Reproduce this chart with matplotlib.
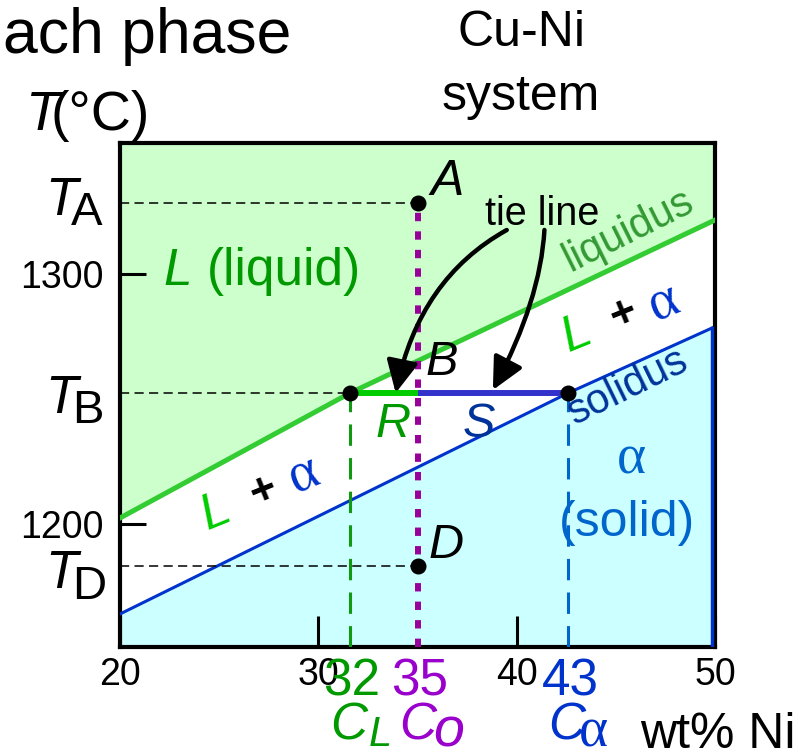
import numpy as np
import matplotlib
matplotlib.use('Agg')
import matplotlib.pyplot as plt
from matplotlib.path import Path
from matplotlib.patches import FancyArrowPatch

plt.rcParams['font.family'] = ['Liberation Sans', 'DejaVu Sans']

# phase boundaries (wt% Ni, deg C)
liq_x = [20, 31.6, 50]
liq_T = [1202.4, 1252.4, 1321.6]
sol_x = [20, 42.6, 49.85]
sol_T = [1164.0, 1252.4, 1278.4]

# alloy / tie line
C0 = 35
CL = 31.6
Ca = 42.6
TA = 1328.4
TB = 1252.4
TD = 1183.2
comp_labels = ['32', '35', '43']

xticks = [20, 30, 40, 50]
yticks = [1200, 1300]
xmin, xmax = 20, 50
ymin, ymax = 1150.8, 1352.4

fig = plt.figure(figsize=(8.11, 7.56), dpi=100)
ax = fig.add_axes([120/811, 109/756, 595/811, 504/756])
ax.set_xlim(xmin, xmax)
ax.set_ylim(ymin, ymax)

# regions
xs = np.linspace(xmin, xmax, 300)
ax.fill_between(xs, np.interp(xs, liq_x, liq_T), ymax, color='#ccffcc', lw=0, zorder=0)
xs2 = np.linspace(xmin, sol_x[-1], 300)
ax.fill_between(xs2, ymin, np.interp(xs2, sol_x, sol_T), color='#ccffff', lw=0, zorder=0)

ax.plot(liq_x, liq_T, color='#33cc33', lw=3.6, zorder=3)
ax.plot(sol_x, sol_T, color='#0033cc', lw=2.2, zorder=3)
ax.plot([sol_x[-1], sol_x[-1]], [ymin, sol_T[-1]], color='#0033cc', lw=2.5, zorder=3)

# guide lines
dash_k = dict(color='black', lw=1.1, ls=(0, (6, 3.5)), zorder=3)
ax.plot([xmin, C0], [TA, TA], **dash_k)
ax.plot([xmin, CL], [TB, TB], **dash_k)
ax.plot([xmin, C0], [TD, TD], **dash_k)
ax.plot([CL, CL], [ymin, TB], color='#119911', lw=2.2, ls=(0, (7, 4)), zorder=3)
ax.plot([Ca, Ca], [ymin, TB], color='#0066cc', lw=2.2, ls=(0, (7, 4)), zorder=3)
ax.plot([C0, C0], [ymin, TA], color='#990099', lw=4.3, ls=(0, (1.4, 1.7)), zorder=4)

# tie line
ax.plot([CL, C0], [TB, TB], color='#00cc00', lw=4.3, solid_capstyle='butt', zorder=4)
ax.plot([C0, Ca], [TB, TB], color='#3333cc', lw=4.3, solid_capstyle='butt', zorder=4)

ax.plot([C0, CL, Ca, C0], [TA, TB, TB, TD], 'o', color='black', ms=10.5, zorder=6)

# arrows from "tie line"
for verts in ([(39.5, 1317.6), (35.1, 1298.2), (33.9, 1252.4)],
              [(41.4, 1317.6), (41.2, 1289.6), (38.8, 1253.6)]):
    arr = FancyArrowPatch(path=Path(verts, [Path.MOVETO, Path.CURVE3, Path.CURVE3]),
                          arrowstyle='-|>,head_length=0.65,head_width=0.32',
                          mutation_scale=30, lw=3.2, color='black',
                          shrinkA=0, shrinkB=0, zorder=5)
    ax.add_patch(arr)

# axes styling
for s in ax.spines.values():
    s.set_linewidth(3)
ax.set_xticks(xticks)
ax.set_xticklabels([str(v) for v in xticks], fontsize=27)
ax.set_yticks(yticks)
ax.set_yticklabels([str(v) for v in yticks], fontsize=27)
ax.tick_params(axis='y', direction='in', length=19, width=2.2, pad=12)
ax.tick_params(axis='x', direction='in', length=22, width=2.2, pad=7)

# temperature labels
for sub, sx, Tb, sb in [('A', 17.5, 1323.6, 1319.6),
                        ('B', 17.6, 1244.4, 1240.4),
                        ('D', 17.6, 1174.4, 1170.0)]:
    ax.text(16.25, Tb, 'T', fontsize=38, style='italic', ha='left', va='baseline', clip_on=False)
    ax.text(sx, sb, sub, fontsize=34, ha='left', va='baseline', clip_on=False)

# region labels
ax.text(22.17, 1295.6, 'L', fontsize=37, style='italic', color='#009900', va='baseline')
ax.text(24.4, 1295.6, '(liquid)', fontsize=37, color='#009900', va='baseline')
ax.text(35.63, 1331.6, 'A', fontsize=36, style='italic', va='baseline')
ax.text(35.38, 1259.6, 'B', fontsize=35, style='italic', va='baseline')
ax.text(35.53, 1186.4, 'D', fontsize=35, style='italic', va='baseline')
ax.text(32.86, 1234.8, 'R', fontsize=35, style='italic', color='#009900', va='baseline')
ax.text(37.29, 1234.8, 'S', fontsize=35, style='italic', color='#003399', va='baseline')
ax.text(38.4, 1319.6, 'tie line', fontsize=28.5, va='baseline')
ax.text(42.7, 1301.0, 'liquidus', fontsize=30, color='#339933', rotation=26.5,
        rotation_mode='anchor', ha='left', va='baseline')
ax.text(42.95, 1239.4, 'solidus', fontsize=30, color='#003399', rotation=26,
        rotation_mode='anchor', ha='left', va='baseline')

for lx, ly, px, py, axx, ayy in [(42.59, 1268.8, 45.36, 1283.6, 47.43, 1288.4),
                                 (24.39, 1197.6, 27.21, 1212.8, 29.28, 1219.6)]:
    ax.text(lx, ly, 'L', fontsize=36, style='italic', color='#00cc00', rotation=22,
            rotation_mode='anchor', ha='left', va='baseline')
    ax.text(px, py, '+', fontsize=32, fontweight='bold', rotation=22,
            ha='center', va='center')
    ax.text(axx, ayy, 'α', fontsize=40, family='Liberation Serif', color='#0033cc',
            rotation=22, ha='center', va='center')

ax.text(45.81, 1225.6, 'α', fontsize=40, family='Liberation Serif', color='#0066cc',
        ha='center', va='center')
ax.text(45.56, 1200.4, '(solid)', fontsize=36, color='#0066cc', ha='center', va='center')

# composition labels under the axis
for x, lab, col in zip([CL, C0, Ca], comp_labels, ['#009900', '#9900cc', '#0033cc']):
    ax.text(x + 0.1, 1131.6, lab, fontsize=37, color=col, ha='center', va='baseline', clip_on=False)
ax.text(30.59, 1113.6, 'C', fontsize=37, style='italic', color='#009900', va='baseline', clip_on=False)
ax.text(32.55, 1111.0, 'L', fontsize=30, style='italic', color='#009900', va='baseline', clip_on=False)
ax.text(34.1, 1113.6, 'C', fontsize=37, style='italic', color='#9900cc', va='baseline', clip_on=False)
ax.text(35.8, 1111.0, 'o', fontsize=40, style='italic', color='#9900cc', va='baseline', clip_on=False)
ax.text(41.58, 1113.6, 'C', fontsize=37, style='italic', color='#0033cc', va='baseline', clip_on=False)
ax.text(43.15, 1111.0, 'α', fontsize=40, family='Liberation Serif', color='#0033cc',
        va='baseline', clip_on=False)
ax.text(46.22, 1110.4, 'wt% Ni', fontsize=36, va='baseline', clip_on=False)

# header texts
fig.text(3/811, 1 - 53/756, 'ach phase', fontsize=45, va='baseline')
fig.text(25/811, 1 - 130/756, 'T', fontsize=40, style='italic', va='baseline')
fig.text(51/811, 1 - 130/756, '(°C)', fontsize=40, va='baseline')
fig.text(521/811, 1 - 46/756, 'Cu-Ni', fontsize=36, ha='center', va='baseline')
fig.text(521/811, 1 - 110/756, 'system', fontsize=36, ha='center', va='baseline')

fig.savefig('out.png', dpi=100)
